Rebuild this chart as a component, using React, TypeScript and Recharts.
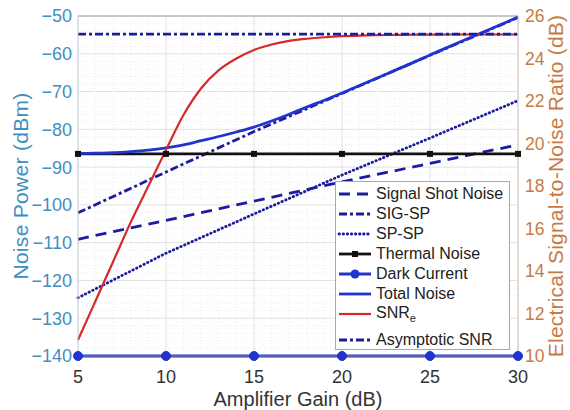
import {
  CartesianGrid,
  Label,
  Legend,
  Line,
  LineChart,
  ReferenceLine,
  XAxis,
  YAxis,
} from "recharts";

// amplifier gain (dB), fine steps for the curved traces
const gain = [5, 6, 7, 8, 9, 10, 11, 12, 13, 14, 15, 16, 17, 18, 19, 20, 21, 22, 23, 24, 25, 26, 27, 28, 29, 30];
const totalNoise = [
  -86.4, -86.3, -86.2, -85.9, -85.5, -84.9, -84.1, -83.0, -81.9, -80.7, -79.4, -77.8, -76.0,
  -74.1, -72.3, -70.4, -68.4, -66.4, -64.4, -62.4, -60.3, -58.3, -56.3, -54.3, -52.3, -50.3,
];
const snrE = [
  10.75, 12.6, 14.45, 16.3, 18.0, 19.7, 21.35, 22.6, 23.45, 24.0, 24.4, 24.66, 24.83,
  24.93, 25.0, 25.05, 25.08, 25.1, 25.11, 25.12, 25.12, 25.13, 25.13, 25.13, 25.13, 25.13,
];

// coarse steps for the straight traces
const gainMajor = [5, 10, 15, 20, 25, 30];
const shotNoise = [-109.1, -104.1, -99.0, -93.9, -89.0, -84.1];
const sigSp = [-102.1, -91.3, -80.6, -70.5, -60.4, -50.4];
const spSp = [-124.6, -112.8, -102.4, -92.1, -82.3, -72.4];
const thermalNoise = [-86.5, -86.5, -86.5, -86.5, -86.5, -86.5];
const darkCurrent = [-140, -140, -140, -140, -140, -140];
const asymptoticSnr = [25.15, 25.15, 25.15, 25.15, 25.15, 25.15];

const powerTicks = [-140, -130, -120, -110, -100, -90, -80, -70, -60, -50];
const snrTicks = [10, 12, 14, 16, 18, 20, 22, 24, 26];
const minorGain = [6, 7, 8, 9, 11, 12, 13, 14, 16, 17, 18, 19, 21, 22, 23, 24, 26, 27, 28, 29];
const minorPower = [-138, -136, -134, -132, -128, -126, -124, -122, -118, -116, -114, -112, -108, -106, -104, -102, -98, -96, -94, -92, -88, -86, -84, -82, -78, -76, -74, -72, -68, -66, -64, -62, -58, -56, -54, -52];

const fineData = gain.map((g, i) => ({ gain: g, total: totalNoise[i], snr: snrE[i] }));
const coarseData = gainMajor.map((g, i) => ({
  gain: g,
  shot: shotNoise[i],
  sigSp: sigSp[i],
  spSp: spSp[i],
  thermal: thermalNoise[i],
  dark: darkCurrent[i],
  asym: asymptoticSnr[i],
}));

const NAVY = "#1c1ca0";
const BLUE = "#2233d0";
const RED = "#d42a2a";
const LEFT_C = "#3f8fc0";
const RIGHT_C = "#c87a45";
const FONT = "'Liberation Sans', Arial, Helvetica, sans-serif";

type Series = {
  key: string;
  name: string;
  sub?: string;
  color: string;
  width: number;
  dash?: string;
  cap?: "round" | "butt";
  marker?: "square" | "circle";
};

const SERIES: Series[] = [
  { key: "shot", name: "Signal Shot Noise", color: NAVY, width: 2.8, dash: "11 7" },
  { key: "sigSp", name: "SIG-SP", color: NAVY, width: 2.8, dash: "8 3 3 3" },
  { key: "spSp", name: "SP-SP", color: NAVY, width: 2.8, dash: "0.5 3.6", cap: "round" },
  { key: "thermal", name: "Thermal Noise", color: "#111111", width: 2.8, marker: "square" },
  { key: "dark", name: "Dark Current", color: BLUE, width: 3, marker: "circle" },
  { key: "total", name: "Total Noise", color: BLUE, width: 2.8 },
  { key: "snr", name: "SNR", sub: "e", color: RED, width: 2.2 },
  { key: "asym", name: "Asymptotic SNR", color: NAVY, width: 2.8, dash: "8 3 3 3" },
];

// typographic minus for negative tick values
const minus = (v: number) => String(v).replace("-", "\u2212");

const squareDot = (p: any) => (
  <rect key={`sq-${p.index}`} x={p.cx - 3} y={p.cy - 3} width={6} height={6} fill="#111" />
);

function LegendBox() {
  return (
    <div
      style={{
        width: 175,
        height: 169,
        boxSizing: "border-box",
        border: "1px solid #a8a8a8",
        background: "#fff",
        paddingTop: 2,
        fontFamily: FONT,
        fontSize: 16,
        color: "#222",
      }}
    >
      {SERIES.map((s) => (
        <div
          key={s.key}
          style={{
            display: "flex",
            alignItems: "center",
            height: s.sub ? 26 : 20,
            paddingBottom: s.sub ? 6 : 0,
            boxSizing: "border-box",
          }}
        >
          <svg width={40} height={12} style={{ flex: "none" }}>
            <line
              x1={3}
              x2={35}
              y1={6}
              y2={6}
              stroke={s.color}
              strokeWidth={s.width}
              strokeDasharray={s.dash}
              strokeLinecap={s.cap ?? "butt"}
            />
            {s.marker === "circle" && <circle cx={19} cy={6} r={4.5} fill={s.color} />}
            {s.marker === "square" && <rect x={16} y={3} width={6} height={6} fill={s.color} />}
          </svg>
          <span style={{ whiteSpace: "nowrap" }}>
            {s.name}
            {s.sub && <sub style={{ fontSize: 11 }}>{s.sub}</sub>}
          </span>
        </div>
      ))}
    </div>
  );
}

export default function App() {
  const style = (key: string) => SERIES.find((s) => s.key === key)!;
  const coarse = ["shot", "sigSp", "spSp"];

  return (
    <div style={{ position: "absolute", left: 0, top: 0, background: "#fff" }}>
      <LineChart
        width={570}
        height={410}
        data={fineData}
        margin={{ top: 16, right: 0, bottom: 0, left: 0 }}
        style={{ fontFamily: FONT }}
      >
        <CartesianGrid stroke="#e0e0e0" yAxisId="left" />
        {minorGain.map((g) => (
          <ReferenceLine key={`mx${g}`} x={g} yAxisId="left" stroke="#ececec" strokeDasharray="1 2" />
        ))}
        {minorPower.map((v) => (
          <ReferenceLine key={`my${v}`} y={v} yAxisId="left" stroke="#ececec" strokeDasharray="1 2" />
        ))}
        <ReferenceLine y={-50} yAxisId="left" stroke="#a0a0a0" />

        <XAxis
          dataKey="gain"
          type="number"
          domain={[5, 30]}
          ticks={gainMajor}
          height={54}
          tickSize={0}
          tickMargin={14}
          axisLine={{ stroke: "#888" }}
          tick={{ fill: "#333", fontSize: 18 }}
          allowDuplicatedCategory={false}
        >
          <Label value="Amplifier Gain (dB)" position="insideBottom" offset={4} fill="#333" fontSize={20} />
        </XAxis>
        <YAxis
          yAxisId="left"
          domain={[-140, -50]}
          ticks={powerTicks}
          tickFormatter={minus}
          width={78}
          tickSize={0}
          tickMargin={6}
          axisLine={{ stroke: "#c4d8e0" }}
          tick={{ fill: LEFT_C, fontSize: 18 }}
        >
          <Label
            value="Noise Power (dBm)"
            angle={-90}
            position="insideLeft"
            offset={21}
            fill={LEFT_C}
            fontSize={21}
            style={{ textAnchor: "middle", letterSpacing: 0.3 }}
          />
        </YAxis>
        <YAxis
          yAxisId="right"
          orientation="right"
          domain={[10, 26]}
          ticks={snrTicks}
          width={52}
          tickSize={0}
          tickMargin={7}
          axisLine={{ stroke: "#d8c8bc" }}
          tick={{ fill: RIGHT_C, fontSize: 17.5 }}
        >
          <Label
            value="Electrical Signal-to-Noise Ratio (dB)"
            angle={-90}
            position="insideRight"
            offset={14}
            fill={RIGHT_C}
            fontSize={21}
            style={{ textAnchor: "middle", letterSpacing: 0.2 }}
          />
        </YAxis>

        {coarse.map((k) => (
          <Line
            key={k}
            yAxisId="left"
            data={coarseData}
            dataKey={k}
            name={style(k).name}
            stroke={style(k).color}
            strokeWidth={style(k).width}
            strokeDasharray={style(k).dash}
            strokeLinecap={style(k).cap ?? "butt"}
            dot={false}
            isAnimationActive={false}
          />
        ))}
        <Line
          yAxisId="left"
          data={coarseData}
          dataKey="thermal"
          name="Thermal Noise"
          stroke="#111"
          strokeWidth={2.8}
          dot={squareDot}
          isAnimationActive={false}
        />
        <Line
          yAxisId="left"
          data={coarseData}
          dataKey="dark"
          name="Dark Current"
          stroke={BLUE}
          strokeWidth={3}
          dot={{ r: 4.5, fill: BLUE, stroke: BLUE, strokeWidth: 1 }}
          isAnimationActive={false}
        />
        <Line
          yAxisId="left"
          type="monotone"
          dataKey="total"
          name="Total Noise"
          stroke={BLUE}
          strokeWidth={2.8}
          dot={false}
          isAnimationActive={false}
        />
        <Line
          yAxisId="right"
          type="monotone"
          dataKey="snr"
          name="SNRe"
          stroke={RED}
          strokeWidth={2.2}
          dot={false}
          isAnimationActive={false}
        />
        <Line
          yAxisId="right"
          data={coarseData}
          dataKey="asym"
          name="Asymptotic SNR"
          stroke={NAVY}
          strokeWidth={2.8}
          strokeDasharray="8 3 3 3"
          dot={false}
          isAnimationActive={false}
        />

        <Legend
          layout="vertical"
          align="center"
          verticalAlign="middle"
          content={() => <LegendBox />}
          wrapperStyle={{ left: 335, top: 181, width: 175, height: 169 }}
        />
      </LineChart>
    </div>
  );
}
